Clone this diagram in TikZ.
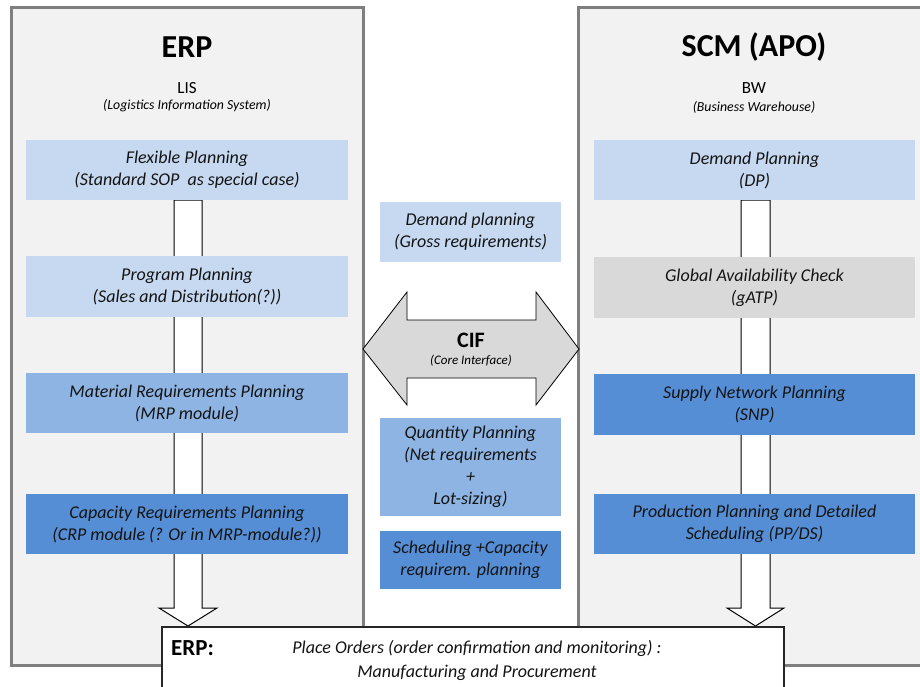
\documentclass[tikz,border=0pt]{standalone}
\usepackage{fontspec}
\setmainfont{Carlito}
\usetikzlibrary{calc}
\definecolor{panelfill}{HTML}{F2F2F2}
\definecolor{panelline}{HTML}{7F7F7F}
\definecolor{lightblue}{HTML}{C6D9F1}
\definecolor{midblue}{HTML}{8EB4E3}
\definecolor{darkblue}{HTML}{558ED5}
\definecolor{grayfill}{HTML}{D9D9D9}
\definecolor{txt}{HTML}{141414}
\tikzset{
  panel/.style={draw=panelline, line width=3pt, fill=panelfill},
  box/.style={draw=none, inner sep=0pt, align=center, text=txt,
    font=\fontsize{18}{22}\selectfont\itshape},
  sidebox/.style={box, minimum width=322pt, minimum height=60pt},
  midbox/.style={box, minimum width=181pt},
  bigtitle/.style={font=\fontsize{32}{36}\selectfont\bfseries, inner sep=0pt},
  subtitle/.style={font=\fontsize{17}{20}\selectfont, inner sep=0pt},
  smallnote/.style={font=\fontsize{13.8}{16}\selectfont\itshape, inner sep=0pt},
  flowarrow/.style={draw=black, line width=1pt, fill=white, line join=miter},
  cifarrow/.style={draw=black, line width=0.8pt, fill=grayfill, line join=miter},
}
\begin{document}
\begin{tikzpicture}[x=1pt, y=-1pt]
\clip (0,0) rectangle (920,686);
\fill[white] (0,0) rectangle (920,686);
% panels
\draw[panel] (11,7) rectangle (363,665);
\draw[panel] (578,7) rectangle (930,665);
% titles
\node[bigtitle] (erpt) at (187,47) {ERP};
\node[subtitle] (lis) at (187,88) {LIS};
\node[smallnote] (lisn) at (187,106) {(Logistics Information System)};
\node[bigtitle] (scmt) at (754,47) {SCM (APO)};
\node[subtitle] (bw) at (754,88) {BW};
\node[smallnote] (bwn) at (754,107) {(Business Warehouse)};
% flow arrows (behind boxes)
\coordinate (lt) at (188,200);
\coordinate (ltip) at (188,626);
\draw[flowarrow] ($(lt)+(-14,0)$) -- ($(lt)+(14,0)$) -- ($(ltip)+(14,-18)$) -- ($(ltip)+(29,-18)$)
  -- (ltip) -- ($(ltip)+(-29,-18)$) -- ($(ltip)+(-14,-18)$) -- cycle;
\coordinate (rt) at (755.5,200);
\coordinate (rtip) at (755.5,626);
\draw[flowarrow] ($(rt)+(-14.5,0)$) -- ($(rt)+(14.5,0)$) -- ($(rtip)+(14.5,-18)$) -- ($(rtip)+(28.5,-18)$)
  -- (rtip) -- ($(rtip)+(-28.5,-18)$) -- ($(rtip)+(-14.5,-18)$) -- cycle;
% left boxes
\node[sidebox, fill=lightblue] (flex) at (187,170) {Flexible Planning\\(Standard SOP \ as special case)};
\node[sidebox, fill=lightblue, minimum height=61pt] (prog) at (187,286.5) {Program Planning\\(Sales and Distribution(?))};
\node[sidebox, fill=midblue] (mrp) at (187,403) {Material Requirements Planning\\(MRP module)};
\node[sidebox, fill=darkblue] (crp) at (187,524) {Capacity Requirements Planning\\(CRP module (? Or in MRP-module?))};
% right boxes
\node[sidebox, fill=lightblue, minimum width=321pt] (dp) at (754.5,170) {Demand Planning\\(DP)};
\node[sidebox, fill=grayfill, minimum width=321pt, minimum height=61pt] (gatp) at (754.5,287.5) {Global Availability Check\\(gATP)};
\node[sidebox, fill=darkblue, minimum width=321pt, minimum height=61pt] (snp) at (754.5,404.5) {Supply Network Planning\\(SNP)};
\node[sidebox, fill=darkblue, minimum width=321pt] (ppds) at (754.5,524) {Production Planning and Detailed\\Scheduling (PP/DS)};
% centre boxes
\node[midbox, fill=lightblue, minimum height=60pt] (dem) at (470.5,232) {Demand planning\\(Gross requirements)};
\node[midbox, fill=midblue, minimum height=98pt] (qty) at (470.5,467) {Quantity Planning\\(Net requirements\\+\\Lot-sizing)};
\node[midbox, fill=darkblue, minimum height=58pt] (sched) at (470.5,560) {Scheduling +Capacity\\requirem. planning};
% CIF double arrow
\draw[cifarrow] (363,349) -- (407,292) -- (407,320) -- (536,320) -- (536,292) -- (579,349)
  -- (536,405) -- (536,378) -- (407,378) -- (407,405) -- cycle;
\node[font=\fontsize{22}{24}\selectfont\bfseries, inner sep=0pt] (cif) at (471,340) {CIF};
\node[font=\fontsize{13}{15}\selectfont\itshape, inner sep=0pt] (cifn) at (471,361) {(Core Interface)};
% bottom box
\draw[draw=black!85, line width=1.3pt, fill=white] (162,627) rectangle (784,700);
\node[font=\fontsize{23}{26}\selectfont\bfseries, anchor=west, inner sep=0pt] (erpb) at (171,648) {ERP:};
\node[font=\fontsize{18}{24}\selectfont\itshape, align=center, inner sep=0pt, text=txt] (orders) at (477,660)
  {Place Orders (order confirmation and monitoring) :\\Manufacturing and Procurement};
\end{tikzpicture}
\end{document}
